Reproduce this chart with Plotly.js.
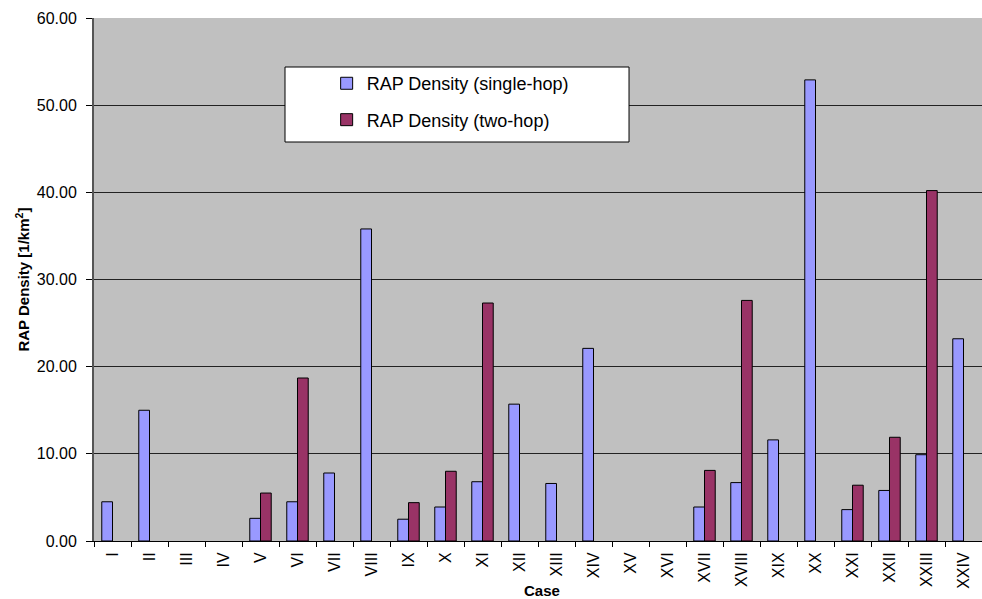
<!DOCTYPE html>
<html>
<head>
<meta charset="utf-8">
<script src="https://cdn.plot.ly/plotly-3.0.1.min.js"></script>
<style>
  html, body { margin: 0; padding: 0; background: #fff; }
  #chart { width: 982px; height: 599px; }
</style>
</head>
<body>
<div id="chart"></div>
<script>
// Cases (Roman numerals) along the x axis
const cases = ["I","II","III","IV","V","VI","VII","VIII","IX","X","XI","XII",
               "XIII","XIV","XV","XVI","XVII","XVIII","XIX","XX","XXI","XXII","XXIII","XXIV"];

// RAP density per case [1/km^2]; null = no value for that case
const singleHop = [4.5, 15.0, null, null, 2.6, 4.5, 7.8, 35.8, 2.5, 3.9, 6.8, 15.7,
                   6.6, 22.1, null, null, 3.9, 6.7, 11.6, 52.9, 3.6, 5.8, 9.9, 23.2];
const twoHop    = [null, null, null, null, 5.5, 18.7, null, null, 4.4, 8.0, 27.3, null,
                   null, null, null, null, 8.1, 27.6, null, null, 6.4, 11.9, 40.2, null];

const seriesNames = ["RAP Density (single-hop)", "RAP Density (two-hop)"];
const yTicks = [0, 10, 20, 30, 40, 50, 60];

const FONT = "Liberation Sans, Arial, sans-serif";

const traces = [
  {
    type: "bar", name: seriesNames[0], x: cases, y: singleHop,
    legendgroup: "a",
    marker: { color: "#9999FF", line: { color: "#000000", width: 1 } },
    hoverinfo: "x+y"
  },
  {
    type: "bar", name: seriesNames[1], x: cases, y: twoHop,
    legendgroup: "b",
    marker: { color: "#993366", line: { color: "#000000", width: 1 } },
    hoverinfo: "x+y"
  }
];

const layout = {
  width: 982, height: 599,
  margin: { l: 94, r: 0, t: 18, b: 58, pad: 0 },
  paper_bgcolor: "#ffffff",
  plot_bgcolor: "#C0C0C0",
  font: { family: FONT, size: 16, color: "#000" },
  barmode: "group",
  bargap: 0.42,
  bargroupgap: 0,
  showlegend: true,
  legend: {
    x: 0.262, xanchor: "left",
    y: 0.91, yanchor: "top",
    bgcolor: "rgba(0,0,0,0)",
    borderwidth: 0,
    font: { family: FONT, size: 18, color: "#000" },
    traceorder: "grouped",
    tracegroupgap: 10
  },
  xaxis: {
    type: "category",
    tickangle: -90,
    tickson: "boundaries",
    ticks: "outside", ticklen: 5, tickcolor: "#000", tickwidth: 1,
    ticklabelstandoff: 4,
    showline: true, linecolor: "#000", linewidth: 1,
    showgrid: false, zeroline: false,
    tickfont: { family: FONT, size: 16, color: "#000" },
    fixedrange: true
  },
  yaxis: {
    range: [0, 60],
    tickvals: yTicks,
    tickformat: ".2f",
    ticks: "outside", ticklen: 6, tickcolor: "#000", tickwidth: 1,
    ticklabelstandoff: 6,
    showline: true, linecolor: "#555", linewidth: 2,
    showgrid: true, gridcolor: "#222", gridwidth: 1,
    zeroline: false,
    tickfont: { family: FONT, size: 16, color: "#000" },
    fixedrange: true
  },
  shapes: [
    {
      type: "rect", xref: "paper", yref: "paper",
      x0: 0.2151, x1: 0.6025, y0: 0.7629, y1: 0.9063,
      fillcolor: "#ffffff", line: { color: "#000", width: 1 },
      layer: "above"
    }
  ],
  annotations: [
    {
      text: "<b>Case</b>", xref: "paper", yref: "paper",
      x: 0.505, y: -0.095, xanchor: "center", yanchor: "middle",
      showarrow: false, font: { family: FONT, size: 15, color: "#000" }
    },
    {
      text: "<b>RAP Density [1/km<sup>2</sup>]</b>", xref: "paper", yref: "paper",
      x: -0.081, y: 0.5, xanchor: "center", yanchor: "middle",
      textangle: -90,
      showarrow: false, font: { family: FONT, size: 15, color: "#000" }
    }
  ]
};

Plotly.newPlot("chart", traces, layout, { displayModeBar: false, staticPlot: true });
</script>
</body>
</html>
